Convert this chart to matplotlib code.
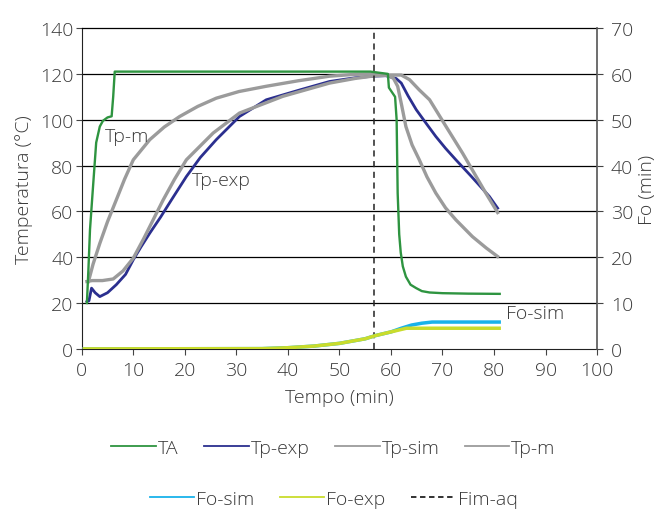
import matplotlib.pyplot as plt
from matplotlib.lines import Line2D

plt.rcParams["font.family"] = ["Open Sans", "DejaVu Sans"]
plt.rcParams["font.weight"] = "light"
plt.rcParams["axes.labelweight"] = "light"

# TA (green)
ta_x = [1.0, 1.3, 1.6, 2.1, 2.8, 3.5, 4.1, 5.0, 5.8, 6.1, 6.4, 7.0, 20, 40, 56,
        59.4, 59.6, 60.2, 60.8, 61.1, 61.3, 61.6, 61.9, 62.3, 62.9, 63.8, 64.9,
        66.0, 67.5, 70, 75, 81.1]
ta_y = [20, 35, 52, 68, 90, 97, 99.5, 101, 101.5, 110, 121, 121, 121, 121, 121,
        120, 114, 112, 110, 100, 68, 50, 42, 36, 31.5, 28, 26.5,
        25.2, 24.6, 24.3, 24.1, 24]

# Tp-exp (blue)
exp_x = [1.0, 1.4, 1.9, 2.6, 3.5, 5.0, 6.7, 8.5, 10, 11.5, 13.2, 15.3, 17.4,
         20.3, 23, 26.1, 30.6, 35.8, 42.3, 48.1, 53, 56.5, 59, 61, 62, 63.3,
         64.9, 66.8, 68.7, 70.6, 72.6, 75.5, 79.1, 80.7]
exp_y = [20.6, 21, 26.5, 24.5, 22.8, 24.5, 28, 32.5, 38.9, 44.5, 50.5, 57.5, 65,
         75.2, 83.5, 91.3, 101.4, 108.7, 113, 116.7, 118.3, 119, 119.2, 118, 116,
         110.5, 104.4, 98.5, 92.7, 87.5, 82.5, 75.5, 66.5, 61.4]

# Tp-sim (gray, slow)
sim_x = [1.0, 2, 4, 6.1, 8, 10, 12, 14.5, 15.8, 18, 20.3, 25.5, 30.6, 39, 48.1,
         53, 57, 60, 62, 63.6, 65.5, 67.5, 70.7, 73.9, 78.4, 80.7]
sim_y = [29.4, 29.8, 29.8, 30.5, 34, 39.6, 48, 59.2, 65, 74, 82.5, 94.2, 102.9,
         110.2, 116, 118, 119.2, 119.5, 119.5, 117.5, 113, 108.7, 97, 85.4, 68, 59.5]

# Tp-m (gray, fast)
tpm_x = [1.3, 2.2, 3.5, 5, 6.7, 8.3, 10, 13.2, 16, 19, 22.5, 26.1, 30.5, 35.8,
         42, 48.1, 53, 57, 59.4, 60.5, 61.3, 62.1, 62.9, 64.1, 65.5, 67, 68.7,
         70.6, 72.6, 75.8, 78.5, 80.7]
tpm_y = [29.4, 37, 46, 55.5, 65, 74, 82.5, 91.3, 96.8, 101.4, 105.8, 109.4,
         112.3, 114.6, 117, 119, 119.8, 120, 119.5, 118, 114.6, 106, 97, 89, 82.5,
         75, 68, 61.5, 56.3, 49, 44, 40.3]

# Fo curves (right axis, min)
fosim_x = [0.5, 35, 40, 45, 50, 55, 57, 60, 62, 64, 66, 68, 81]
fosim_y = [0, 0.05, 0.25, 0.6, 1.2, 2.2, 2.9, 3.7, 4.5, 5.2, 5.6, 5.85, 5.85]
foexp_x = [0.5, 35, 40, 45, 50, 55, 57, 60, 63, 81]
foexp_y = [0, 0.05, 0.25, 0.6, 1.2, 2.2, 2.9, 3.7, 4.5, 4.5]

fim_aq = 56.7

c_ta = "#2e9440"
c_exp = "#2b2f8f"
c_gray = "#9b9b9b"
c_fosim = "#19b2ea"
c_foexp = "#c9dc2c"
txt = "#3a3a3a"
fs = 14

fig = plt.figure(figsize=(6.54, 5.10), dpi=100)
ax = fig.add_axes([0.125, 0.314, 0.788, 0.629])

for yv in range(20, 140, 20):
    ax.axhline(yv, color="black", lw=0.9, zorder=0)

ax.plot(exp_x, exp_y, color=c_exp, lw=2.0, zorder=2)
ax.plot(sim_x, sim_y, color=c_gray, lw=2.4, zorder=3)
ax.plot(tpm_x, tpm_y, color=c_gray, lw=2.4, zorder=3)
ax.plot(ta_x, ta_y, color=c_ta, lw=1.7, zorder=4)
ax.axvline(fim_aq, color="#222222", lw=1.1, ls=(0, (4, 3)), zorder=5)

ax.set_xlim(0, 100)
ax.set_ylim(0, 140)
ax.set_xticks(range(0, 101, 10))
ax.set_yticks(range(0, 141, 20))
ax.set_xlabel("Tempo (min)", fontsize=fs, color=txt, labelpad=6)
ax.set_ylabel("Temperatura (°C)", fontsize=fs, color=txt, labelpad=5)
ax.tick_params(labelsize=fs, labelcolor=txt, color="#444444", length=4,
               direction="out", pad=2)
ax.tick_params(axis="x", pad=5)

for s in ["left", "bottom"]:
    ax.spines[s].set_color("#222222")
ax.spines["top"].set_color("black")
ax.spines["top"].set_linewidth(0.9)
ax.spines["right"].set_visible(False)

ax2 = ax.twinx()
ax2.plot(fosim_x, fosim_y, color=c_fosim, lw=2.5)
ax2.plot(foexp_x, foexp_y, color=c_foexp, lw=2.5)
ax2.set_ylim(0, 70)
ax2.set_yticks(range(0, 71, 10))
ax2.set_ylabel("Fo (min)", fontsize=fs, color=txt, labelpad=3)
ax2.tick_params(labelsize=fs, labelcolor=txt, color="#444444", length=4,
                direction="out", pad=6)
ax2.spines["right"].set_color("#555555")
ax2.spines["right"].set_linewidth(1.2)
for s in ["left", "top", "bottom"]:
    ax2.spines[s].set_visible(False)

ax.text(4.5, 93, "Tp-m", fontsize=fs, color=txt, va="center")
ax.text(21.3, 73.5, "Tp-exp", fontsize=fs, color=txt, va="center")
ax.text(82.4, 15.7, "Fo-sim", fontsize=fs, color=txt, va="center")


def handle(color, ls="-"):
    return Line2D([], [], color=color, lw=1.3, ls=ls)


leg_kw = dict(frameon=False, fontsize=fs, handlelength=2.3, handletextpad=0.1,
              columnspacing=1.3, labelcolor=txt, loc="center")
fig.legend([handle(c_ta), handle(c_exp), handle(c_gray), handle(c_gray)],
           ["TA", "Tp-exp", "Tp-sim", "Tp-m"], ncol=4,
           bbox_to_anchor=(0.51, 0.12), **leg_kw)
fig.legend([handle(c_fosim), handle(c_foexp), handle("#222222", (0, (3, 2)))],
           ["Fo-sim", "Fo-exp", "Fim-aq"], ncol=3,
           bbox_to_anchor=(0.51, 0.02), **leg_kw)

fig.savefig("out.png", dpi=100, facecolor="white")
